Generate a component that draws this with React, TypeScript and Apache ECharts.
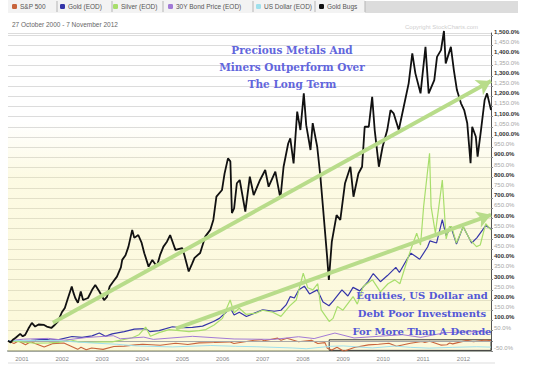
import React, { useEffect, useRef } from "react";
import * as echarts from "echarts";

// ---------- data (percent change since 27 Oct 2000) ----------
const startDate = "2000-10-27";
const endDate = "2012-11-07";
const dateRangeText = "27 October 2000 - 7 November 2012";
const seriesNames = ["S&P 500", "Gold (EOD)", "Silver (EOD)", "30Y Bond Price (EOD)", "US Dollar (EOD)", "Gold Bugs"];
const seriesColors = ["#c8643c", "#3535a8", "#a8de6c", "#a27ad6", "#9fe0ec", "#111111"];
const legendLefts = [12, 60, 113, 168, 256, 319];

const goldBugs: [string, number][] = [
  ["2000-10-27", 0], ["2000-11-20", -8], ["2000-12-10", 5], ["2001-01-05", 15], ["2001-02-15", 34],
  ["2001-03-10", 22], ["2001-04-01", 29], ["2001-05-01", 60], ["2001-06-01", 88], ["2001-07-01", 70],
  ["2001-08-01", 80], ["2001-09-20", 78], ["2001-10-15", 70], ["2001-11-25", 63], ["2001-12-20", 75],
  ["2002-01-25", 95], ["2002-03-01", 140], ["2002-03-28", 161], ["2002-04-20", 200], ["2002-05-30", 266],
  ["2002-06-15", 235], ["2002-07-01", 210], ["2002-07-25", 186], ["2002-08-20", 242], ["2002-09-10", 200],
  ["2002-10-25", 210], ["2002-12-01", 250], ["2002-12-30", 274], ["2003-02-05", 242], ["2003-03-20", 200],
  ["2003-04-15", 215], ["2003-05-10", 266], ["2003-06-10", 290], ["2003-07-15", 315], ["2003-08-20", 360],
  ["2003-09-01", 397], ["2003-10-01", 420], ["2003-10-28", 462], ["2003-12-01", 544], ["2003-12-20", 505],
  ["2004-01-25", 519], ["2004-02-25", 480], ["2004-03-20", 430], ["2004-04-28", 364], ["2004-06-01", 397],
  ["2004-07-12", 364], ["2004-08-10", 420], ["2004-09-10", 462], ["2004-10-12", 486], ["2004-11-10", 519],
  ["2004-12-28", 446], ["2005-02-28", 455], ["2005-03-20", 420], ["2005-04-28", 340], ["2005-05-30", 380],
  ["2005-06-20", 407], ["2005-08-10", 431], ["2005-09-25", 511], ["2005-11-10", 544], ["2005-12-08", 593],
  ["2006-01-05", 707], ["2006-02-25", 740], ["2006-03-20", 820], ["2006-04-20", 895], ["2006-05-12", 880],
  ["2006-05-26", 627], ["2006-06-15", 650], ["2006-07-10", 773], ["2006-08-05", 789], ["2006-09-25", 634],
  ["2006-11-05", 805], ["2006-12-10", 715], ["2007-02-06", 789], ["2007-03-25", 838], ["2007-04-25", 756],
  ["2007-06-25", 830], ["2007-08-10", 699], ["2007-09-08", 854], ["2007-10-20", 968], ["2007-11-08", 993],
  ["2007-12-08", 870], ["2008-01-10", 1124], ["2008-02-08", 1034], ["2008-03-10", 1214], ["2008-04-01", 1058],
  ["2008-05-10", 936], ["2008-05-30", 1068], ["2008-07-10", 952], ["2008-08-08", 805], ["2008-09-05", 626],
  ["2008-10-08", 413], ["2008-10-24", 299], ["2008-11-20", 487], ["2009-01-02", 617], ["2009-02-05", 593],
  ["2009-03-20", 773], ["2009-05-08", 854], ["2009-06-05", 707], ["2009-07-20", 821], ["2009-08-22", 854],
  ["2009-09-15", 1050], ["2009-10-22", 1050], ["2009-11-22", 1197], ["2009-12-15", 1034], ["2010-01-22", 854],
  ["2010-02-25", 952], ["2010-04-08", 1034], ["2010-05-08", 1132], ["2010-06-05", 1116], ["2010-07-22", 1034],
  ["2010-09-05", 1148], ["2010-10-20", 1263], ["2010-11-22", 1410], ["2010-12-20", 1312], ["2011-02-05", 1214],
  ["2011-03-22", 1442], ["2011-04-20", 1214], ["2011-06-10", 1279], ["2011-07-05", 1393], ["2011-08-10", 1426],
  ["2011-09-06", 1520], ["2011-09-22", 1361], ["2011-11-08", 1442], ["2011-12-05", 1328], ["2012-01-02", 1230],
  ["2012-02-08", 1165], ["2012-03-08", 1132], ["2012-04-05", 1067], ["2012-05-05", 871], ["2012-05-20", 1050],
  ["2012-06-22", 1001], ["2012-07-08", 903], ["2012-08-08", 1034], ["2012-09-10", 1181], ["2012-10-02", 1214],
  ["2012-11-07", 1132],
];

const gold: [string, number][] = [
  ["2000-10-27", 0], ["2001-01-15", -2], ["2001-04-01", -4], ["2001-06-01", 2], ["2001-09-20", 8],
  ["2001-11-15", 4], ["2002-02-01", 6], ["2002-06-01", 21], ["2002-09-01", 17], ["2002-12-01", 24],
  ["2003-02-05", 38], ["2003-04-01", 22], ["2003-06-01", 34], ["2003-09-20", 45], ["2003-12-20", 57],
  ["2004-04-01", 60], ["2004-05-10", 45], ["2004-08-01", 50], ["2004-12-01", 69], ["2005-03-01", 64],
  ["2005-06-01", 66], ["2005-09-01", 72], ["2005-12-10", 95], ["2006-02-01", 110], ["2006-05-12", 160],
  ["2006-06-15", 127], ["2006-08-01", 140], ["2006-10-05", 119], ["2007-01-05", 140], ["2007-03-01", 152],
  ["2007-06-15", 145], ["2007-08-15", 150], ["2007-10-01", 176], ["2007-11-08", 217], ["2007-12-15", 210],
  ["2008-01-25", 250], ["2008-03-15", 268], ["2008-05-01", 230], ["2008-07-10", 250], ["2008-09-01", 190],
  ["2008-10-25", 172], ["2008-12-01", 195], ["2009-02-20", 250], ["2009-04-15", 220], ["2009-06-01", 262],
  ["2009-08-01", 245], ["2009-10-15", 290], ["2009-12-02", 330], ["2010-02-05", 290], ["2010-04-10", 320],
  ["2010-06-25", 360], ["2010-07-28", 335], ["2010-10-10", 405], ["2010-11-10", 430], ["2011-01-28", 400],
  ["2011-04-10", 460], ["2011-05-01", 490], ["2011-07-01", 480], ["2011-08-22", 595], ["2011-09-26", 515],
  ["2011-11-08", 560], ["2011-12-29", 475], ["2012-02-28", 560], ["2012-05-15", 480], ["2012-07-01", 505],
  ["2012-09-20", 565], ["2012-11-07", 550],
];

const silver: [string, number][] = [
  ["2000-10-27", 0], ["2001-01-15", -3], ["2001-04-15", -8], ["2001-07-01", -12], ["2001-11-01", -10],
  ["2002-02-01", -8], ["2002-05-15", 5], ["2002-08-01", -5], ["2002-11-01", -8], ["2003-03-01", -5],
  ["2003-06-01", -5], ["2003-09-01", 5], ["2003-12-01", 15], ["2004-02-01", 30], ["2004-04-01", 67],
  ["2004-05-15", 22], ["2004-08-01", 40], ["2004-11-01", 55], ["2005-02-01", 50], ["2005-05-01", 45],
  ["2005-08-01", 50], ["2005-10-01", 55], ["2005-12-15", 78], ["2006-03-01", 110], ["2006-05-10", 200],
  ["2006-06-15", 137], ["2006-08-01", 160], ["2006-10-01", 130], ["2007-01-01", 136], ["2007-03-01", 150],
  ["2007-06-01", 140], ["2007-08-15", 120], ["2007-11-01", 170], ["2008-01-01", 200], ["2008-03-05", 332],
  ["2008-04-15", 260], ["2008-06-01", 250], ["2008-07-15", 280], ["2008-08-15", 152], ["2008-10-27", 95],
  ["2008-12-01", 110], ["2009-01-10", 168], ["2009-03-01", 150], ["2009-06-01", 217], ["2009-07-10", 180],
  ["2009-09-01", 266], ["2009-11-25", 299], ["2010-02-05", 240], ["2010-04-15", 280], ["2010-06-15", 299],
  ["2010-08-01", 280], ["2010-10-10", 400], ["2010-11-10", 450], ["2011-01-01", 528], ["2011-02-05", 470],
  ["2011-03-05", 658], ["2011-04-28", 920], ["2011-05-12", 658], ["2011-06-20", 528], ["2011-08-22", 789],
  ["2011-09-26", 500], ["2011-10-25", 560], ["2011-11-15", 560], ["2011-12-28", 480], ["2012-02-28", 560],
  ["2012-05-01", 495], ["2012-06-28", 462], ["2012-08-01", 470], ["2012-09-20", 575], ["2012-11-07", 544],
];

const sp500: [string, number][] = [
  ["2000-10-27", 0], ["2000-12-20", -13], ["2001-01-30", -1], ["2001-04-04", -19], ["2001-05-21", -5],
  ["2001-09-21", -30], ["2001-12-05", -14], ["2002-03-19", -11], ["2002-07-23", -42], ["2002-08-22", -32],
  ["2002-10-09", -44], ["2002-11-27", -35], ["2003-03-11", -42], ["2003-06-17", -28], ["2003-09-18", -26],
  ["2003-12-31", -20], ["2004-03-05", -17], ["2004-08-12", -22], ["2004-12-30", -12], ["2005-04-20", -18],
  ["2005-08-01", -10], ["2005-12-15", -8], ["2006-05-05", -5], ["2006-06-13", -13], ["2006-12-15", 3],
  ["2007-02-20", 6], ["2007-03-13", 0], ["2007-07-16", 13], ["2007-08-16", 3], ["2007-10-09", 13],
  ["2008-01-22", -5], ["2008-05-19", 3], ["2008-07-15", -13], ["2008-09-19", -9], ["2008-10-10", -37],
  ["2008-11-20", -45], ["2009-01-06", -32], ["2009-03-09", -51], ["2009-06-12", -33], ["2009-10-19", -20],
  ["2010-01-19", -17], ["2010-04-23", -12], ["2010-07-02", -27], ["2010-11-05", -12], ["2011-02-18", -3],
  ["2011-03-16", -8], ["2011-04-29", -2], ["2011-08-08", -21], ["2011-10-03", -19], ["2011-10-27", -11],
  ["2011-11-25", -15], ["2012-04-02", 2], ["2012-06-01", -5], ["2012-09-14", 4], ["2012-11-07", 0],
];

const bond: [string, number][] = [
  ["2000-10-27", 0], ["2001-03-15", 8], ["2001-10-30", 12], ["2002-03-20", 3], ["2002-10-08", 16],
  ["2003-06-12", 25], ["2003-08-15", 10], ["2004-03-15", 18], ["2004-06-10", 7], ["2005-06-01", 22],
  ["2006-06-15", 9], ["2007-06-12", 7], ["2008-01-22", 20], ["2008-06-12", 11], ["2008-12-18", 38],
  ["2009-06-10", 14], ["2010-08-24", 30], ["2011-02-08", 17], ["2011-09-22", 40], ["2012-07-24", 46],
  ["2012-11-07", 40],
];

const usDollar: [string, number][] = [
  ["2000-10-27", 0], ["2001-07-05", 2], ["2002-01-30", 1], ["2002-07-15", -6], ["2003-01-15", -12],
  ["2003-07-15", -17], ["2004-01-01", -25], ["2004-11-30", -30], ["2005-11-15", -23], ["2006-06-30", -27],
  ["2007-01-01", -29], ["2007-11-25", -35], ["2008-04-01", -39], ["2008-11-10", -27], ["2009-03-05", -25],
  ["2009-11-25", -35], ["2010-06-10", -26], ["2010-11-05", -32], ["2011-04-25", -36], ["2011-11-25", -32],
  ["2012-06-30", -29], ["2012-11-07", -31],
];

// trend arrows [start date, start %, end date, end %]
const upperTrend: [string, number, string, number] = ["2001-12-10", 88, "2012-11-07", 1275];
const lowerTrend: [string, number, string, number] = ["2005-01-01", 60, "2012-11-07", 618];
// highlighted box [left date, top %, right date, bottom %]
const boxArea: [string, number, string, number] = ["2008-10-27", 5, "2012-11-07", -47];

const upperNote = ["Precious Metals And", "Miners Outperform Over", "The Long Term"];
const lowerNote = ["Equities, US Dollar and", "Debt Poor Investments", "For More Than A Decade"];

const yMin = -50;
const yMax = 1510;
const yStep = 50;

const YEAR_MS = 365.25 * 24 * 3600 * 1000;

export default function App() {
  const ref = useRef<HTMLDivElement>(null);

  useEffect(() => {
    if (!ref.current) return;
    const chart = echarts.init(ref.current, null, { renderer: "svg" });

    const allData = [sp500, gold, silver, bond, usDollar, goldBugs];
    const widths = [1.1, 1.2, 1.2, 1, 1, 1.8];

    const trendStyle = { color: "#b8dc8a", width: 4, type: "solid" as const };

    const lineSeries: any[] = seriesNames.map((name, i) => ({
      name,
      type: "line",
      data: allData[i],
      showSymbol: false,
      symbol: "none",
      clip: i !== 5,
      z: 3 + i,
      lineStyle: { color: seriesColors[i], width: widths[i] },
      itemStyle: { color: seriesColors[i] },
    }));

    // trend arrows on the Gold Bugs series
    lineSeries[5].markLine = {
      silent: true,
      symbol: ["none", "arrow"],
      symbolSize: [13, 14],
      label: { show: false },
      lineStyle: trendStyle,
      itemStyle: { color: trendStyle.color },
      z: 20,
      data: [
        [
          { coord: [upperTrend[0], upperTrend[1]] },
          { coord: [upperTrend[2], upperTrend[3]] },
        ],
        [
          { coord: [lowerTrend[0], lowerTrend[1]] },
          { coord: [lowerTrend[2], lowerTrend[3]] },
        ],
      ],
    };

    // box highlight on the S&P series
    lineSeries[0].markArea = {
      silent: true,
      itemStyle: { color: "rgba(0,0,0,0)", borderColor: "#3a3a3a", borderWidth: 1 },
      data: [[{ coord: [boxArea[0], boxArea[1]] }, { coord: [boxArea[2], boxArea[3]] }]],
    };

    const background = {
      name: "__bg",
      type: "line",
      data: [],
      z: 1,
      silent: true,
      markArea: {
        silent: true,
        itemStyle: {
          color: {
            type: "linear",
            x: 0, y: 0, x2: 0, y2: 1,
            colorStops: [
              { offset: 0, color: "rgba(245,235,140,0)" },
              { offset: 0.28, color: "rgba(245,235,140,0)" },
              { offset: 0.45, color: "rgba(245,235,140,0.24)" },
              { offset: 1, color: "rgba(245,235,140,0.32)" },
            ],
          },
        },
        data: [[{ coord: [startDate, yMin] }, { coord: [endDate, yMax] }]],
      },
      markLine: {
        silent: true,
        symbol: ["none", "none"],
        label: { show: false },
        lineStyle: { color: "#a8a8a8", width: 1, type: "solid" },
        data: [{ yAxis: 0 }],
      },
    };

    const legendCommon = {
      top: 3,
      padding: 0,
      itemGap: 0,
      itemWidth: 5,
      itemHeight: 5,
      icon: "roundRect",
      textStyle: { fontSize: 6.5, color: "#555", fontFamily: "Liberation Sans, Arial, sans-serif", padding: [0, 0, 0, -2] },
      selectedMode: false,
    };

    const sepX = [57, 112, 163, 253, 315, 365];
    const graphics: any[] = [
      { type: "rect", shape: { x: 8, y: 0, width: 357, height: 13 }, style: { fill: "#f3f3f3" }, z: -1 },
      { type: "rect", shape: { x: 365, y: 1, width: 153, height: 12 }, style: { fill: "#dcdcdc" }, z: -1 },
      ...sepX.map((x) => ({
        type: "line",
        shape: { x1: x, y1: 1, x2: x, y2: 12 },
        style: { stroke: "#b5b5b5", lineWidth: 1 },
        z: 0,
      })),
      {
        type: "text",
        left: 12,
        top: 21,
        style: { text: dateRangeText, fontSize: 6.5, fill: "#666", fontFamily: "Liberation Sans, Arial, sans-serif" },
      },
      {
        type: "text",
        left: 405,
        top: 24,
        style: { text: "Copyright StockCharts.com", fontSize: 6, fill: "#cfcfcf", fontFamily: "Liberation Sans, Arial, sans-serif" },
      },
      { type: "line", shape: { x1: 8, y1: 363, x2: 495, y2: 363 }, style: { stroke: "#dddddd", lineWidth: 1 } },
      ...upperNote.map((t, i) => ({
        type: "text",
        x: 292,
        y: 50 + i * 17,
        z: 30,
        style: {
          text: t,
          align: "center",
          verticalAlign: "middle",
          fontSize: 10.5,
          fontWeight: "bold",
          fontFamily: "DejaVu Serif, serif",
          fill: "#6266dc",
        },
      })),
      ...lowerNote.map((t, i) => ({
        type: "text",
        x: 422,
        y: 295 + i * 18,
        z: 30,
        style: {
          text: t,
          align: "center",
          verticalAlign: "middle",
          fontSize: 10,
          fontWeight: "bold",
          fontFamily: "DejaVu Serif, serif",
          fill: "#5357d6",
        },
      })),
    ];

    chart.setOption({
      animation: false,
      backgroundColor: "#ffffff",
      grid: { left: 8, right: 49, top: 33, bottom: 18, containLabel: false },
      legend: seriesNames.map((n, i) => ({ ...legendCommon, data: [n], left: legendLefts[i] })),
      xAxis: {
        type: "time",
        min: startDate,
        max: endDate,
        minInterval: YEAR_MS,
        maxInterval: YEAR_MS,
        axisLine: { show: true, onZero: false, lineStyle: { color: "#a3a8a0", width: 2 } },
        axisTick: { show: false },
        splitLine: { show: false },
        axisLabel: {
          formatter: "{yyyy}",
          align: "left",
          fontSize: 6,
          color: "#888",
          margin: 5,
          showMinLabel: false,
          showMaxLabel: false,
          fontFamily: "Liberation Sans, Arial, sans-serif",
        },
      },
      yAxis: {
        type: "value",
        position: "right",
        min: yMin,
        max: yMax,
        interval: yStep,
        axisLine: { show: true, lineStyle: { color: "#555", width: 1 } },
        axisTick: { show: true, length: 2, lineStyle: { color: "#888" } },
        splitLine: { show: true, lineStyle: { color: "#dcdcdc", width: 1 } },
        axisLabel: {
          margin: 3,
          verticalAlign: "bottom",
          showMaxLabel: false,
          formatter: (v: number) => {
            if (v > 1500 || v === 0) return "";
            const s =
              v.toLocaleString("en-US", { minimumFractionDigits: 1, maximumFractionDigits: 1 }) + "%";
            return v % 100 === 0 ? `{b|${s}}` : `{n|${s}}`;
          },
          rich: {
            b: { fontSize: 6, fontWeight: "bold", color: "#333", fontFamily: "Liberation Sans, Arial, sans-serif" },
            n: { fontSize: 6, color: "#a5a5a5", fontFamily: "Liberation Sans, Arial, sans-serif" },
          },
        },
      },
      graphic: graphics,
      series: [background, ...lineSeries],
    });

    return () => chart.dispose();
  }, []);

  return <div ref={ref} style={{ width: 540, height: 369, position: "absolute", left: 0, top: 0 }} />;
}
